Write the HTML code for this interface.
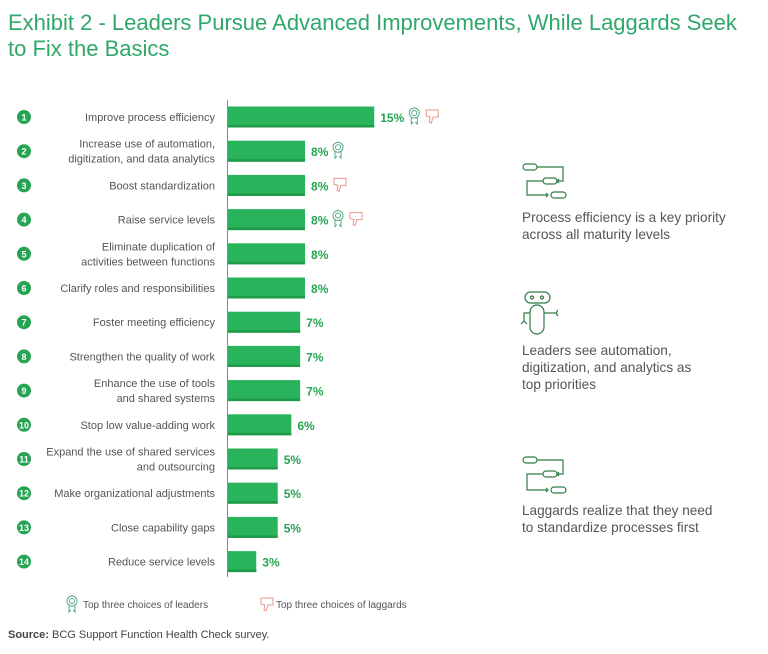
<!DOCTYPE html>
<html><head><meta charset="utf-8"><style>
body{margin:0;background:#fff;width:768px;height:654px;overflow:hidden}
svg{display:block;font-family:"Liberation Sans",sans-serif}
</style></head><body>
<svg id="c" width="768" height="654">
<text x="8" y="30" font-size="22" fill="#2fa86a">Exhibit 2 - Leaders Pursue Advanced Improvements, While Laggards Seek</text>
<text x="8" y="56" font-size="22" fill="#2fa86a">to Fix the Basics</text>
<line x1="227.5" y1="100" x2="227.5" y2="577" stroke="#888" stroke-width="1"/>
<g id="bars"></g>
<g fill="none" stroke="#2f7d45" stroke-width="1.2">
<rect x="523" y="164" width="14" height="6" rx="3"/><path d="M537 167H563V181H557M559 179L557 181L559 183"/><rect x="543" y="178" width="14" height="6" rx="3"/><path d="M543 181H527V195H548M546 193L548 195L546 197"/><rect x="551" y="192" width="15" height="6" rx="3"/>
</g>
<text x="522" y="222" font-size="13.6" fill="#555">Process efficiency is a key priority</text>
<text x="522" y="239" font-size="13.6" fill="#555">across all maturity levels</text>
<g fill="none" stroke="#2f7d45" stroke-width="1.2">
<rect x="525" y="292" width="25" height="11" rx="5.5"/><circle cx="532" cy="297.5" r="1.5"/><circle cx="542" cy="297.5" r="1.5"/><rect x="530" y="305" width="14" height="29" rx="7"/><path d="M530 313H524V322M521 324L524 321L527 324M544 313H557M558 310Q555 313 558 316"/>
</g>
<text x="522" y="355" font-size="13.6" fill="#555">Leaders see automation,</text>
<text x="522" y="372" font-size="13.6" fill="#555">digitization, and analytics as</text>
<text x="522" y="389" font-size="13.6" fill="#555">top priorities</text>
<g fill="none" stroke="#2f7d45" stroke-width="1.2">
<rect x="523" y="457" width="14" height="6" rx="3"/><path d="M537 460H563V474H557M559 472L557 474L559 476"/><rect x="543" y="471" width="14" height="6" rx="3"/><path d="M543 474H527V490H548M546 488L548 490L546 492"/><rect x="551" y="487" width="15" height="6" rx="3"/>
</g>
<text x="522" y="515" font-size="13.6" fill="#555">Laggards realize that they need</text>
<text x="522" y="532" font-size="13.6" fill="#555">to standardize processes first</text>
<g id="leg"></g>
<text x="8" y="638" font-size="11" fill="#444"><tspan font-weight="bold">Source:</tspan> BCG Support Function Health Check survey.</text>
</svg>
<script>
const categories=[["Improve process efficiency"],["Increase use of automation,","digitization, and data analytics"],["Boost standardization"],["Raise service levels"],["Eliminate duplication of","activities between functions"],["Clarify roles and responsibilities"],["Foster meeting efficiency"],["Strengthen the quality of work"],["Enhance the use of tools","and shared systems"],["Stop low value-adding work"],["Expand the use of shared services","and outsourcing"],["Make organizational adjustments"],["Close capability gaps"],["Reduce service levels"]];
const values=[15.0,7.9,7.9,7.9,7.9,7.9,7.4,7.4,7.4,6.5,5.1,5.1,5.1,2.9];
const valueLabels=["15%","8%","8%","8%","8%","8%","7%","7%","7%","6%","5%","5%","5%","3%"];
const leaderFlags=[1,1,0,1,0,0,0,0,0,0,0,0,0,0];
const laggardFlags=[1,0,1,1,0,0,0,0,0,0,0,0,0,0];
const NS="http://www.w3.org/2000/svg";
const x0=228, sc=9.75;
const xS=v=>v*sc;
const yC=i=>117+i*34.2;
const g=document.getElementById('bars');
function mk(t,a,p){const e=document.createElementNS(NS,t);for(const k in a)e.setAttribute(k,a[k]);(p||g).appendChild(e);return e;}
function ribbon(x,y,p){const s=mk('g',{fill:'none',stroke:'#5aaa85','stroke-width':1},p);


mk('circle',{cx:x,cy:y-3,r:5},s);mk('circle',{cx:x,cy:y-3,r:2.5},s);mk('path',{d:`M${x-3} ${y+1}V${y+8}L${x-1} ${y+6}M${x+3} ${y+1}V${y+8}L${x+1} ${y+6}`},s);}
function thumb(x,y,p){const s=mk('path',{fill:'none',stroke:'#e8968a','stroke-width':1,d:`M${x-6} ${y-6}H${x+6}V${y+1}H${x+1}L${x-1} ${y+7}L${x-3} ${y+6}L${x-2} ${y+1}L${x-6} ${y}Z`},p);

}
categories.forEach((c,i)=>{
 const y=yC(i);
 const ci=mk('circle',{cx:24,cy:y,r:7,fill:'#27a453'});
 
 
 const n=mk('text',{x:24,y:y+3.5,'font-size':9,'font-weight':'bold',fill:'#fff','text-anchor':'middle'});n.textContent=i+1;
 
 
 c.forEach((l,j)=>{const t=mk('text',{x:215,y:y+4+(j-(c.length-1)/2)*15,'font-size':11,fill:'#555','text-anchor':'end'});t.textContent=l;
 
 });
 const w=xS(values[i]);
 const r=mk('rect',{x:x0,y:y-10.5,width:w,height:21,fill:'#29b35a'});
 
 
 mk('rect',{x:x0,y:y+8,width:w,height:2.5,fill:'#1f9a49'});
 const v=mk('text',{x:x0+w+6,y:y+5,'font-size':12,'font-weight':'bold',fill:'#27a453'});v.textContent=valueLabels[i];
 
 
 let ix=x0+w+6+(valueLabels[i].length>2?30:23);
 if(leaderFlags[i]){ribbon(ix+4,y-1);ix+=16;}
 if(laggardFlags[i]){thumb(ix+6,y-1);}
});
const lg=document.getElementById('leg');
ribbon(72,604,lg);
const t1=mk('text',{x:83,y:608,'font-size':10,fill:'#555'},lg);t1.textContent="Top three choices of leaders";


thumb(267,604,lg);
const t2=mk('text',{x:276,y:608,'font-size':10,fill:'#555'},lg);t2.textContent="Top three choices of laggards";


</script>
</body></html>
